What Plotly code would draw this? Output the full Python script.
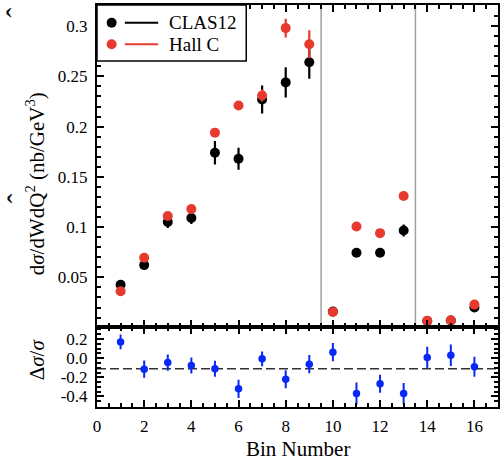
import plotly.graph_objects as go

bins = list(range(1, 17))
clas12 = [0.0427, 0.0622, 0.105, 0.109, 0.174, 0.168, 0.227, 0.244, 0.264, 0.016,
          0.0745, 0.0745, 0.0966, 0.0065, 0.0071, 0.020]
clas12_err = [0.003, 0.003, 0.006, 0.006, 0.0116, 0.011, 0.014, 0.015, 0.0165, 0.002,
              0.004, 0.004, 0.006, 0.002, 0.002, 0.002]
hallc = [0.0361, 0.0695, 0.111, 0.118, 0.194, 0.221, 0.231, 0.298, 0.282, 0.0156,
         0.1006, 0.094, 0.131, 0.0067, 0.0073, 0.0229]
hallc_err = [0.002, 0.002, 0.003, 0.003, 0.003, 0.004, 0.006, 0.0094, 0.014, 0.002,
             0.003, 0.003, 0.004, 0.002, 0.002, 0.002]
ratio = [0.17, -0.115, -0.046, -0.077, -0.11, -0.32, -0.007, -0.22, -0.063, 0.063,
         -0.37, -0.267, -0.37, 0.007, 0.03, -0.09]
ratio_err = [0.077, 0.09, 0.084, 0.084, 0.084, 0.095, 0.077, 0.095, 0.095, 0.095,
             0.115, 0.095, 0.112, 0.112, 0.112, 0.105]
mean_ratio = -0.11
separators = [9.5, 13.5]
legend_names = ["CLAS12", "Hall C"]

BLACK = "#000000"
RED = "#e63a2e"
BLUE = "#0a28f5"
FONT = "Liberation Serif, Times New Roman, Times, serif"

W, H = 501, 462
ML, MR, MT, MB = 97, 1, 5, 55
PW = W - ML - MR
PH = H - MT - MB


def px2x(px):
    return (px - ML) / PW


def py2y(py):
    return (H - MB - py) / PH


fig = go.Figure()

fig.add_trace(go.Scatter(
    x=bins, y=clas12, mode="markers", name=legend_names[0],
    marker=dict(color=BLACK, size=10),
    error_y=dict(type="data", array=clas12_err, color=BLACK, thickness=2.2, width=0),
    xaxis="x", yaxis="y", showlegend=False))
fig.add_trace(go.Scatter(
    x=bins, y=hallc, mode="markers", name=legend_names[1],
    marker=dict(color=RED, size=10),
    error_y=dict(type="data", array=hallc_err, color=RED, thickness=2.2, width=0),
    xaxis="x", yaxis="y", showlegend=False))
fig.add_trace(go.Scatter(
    x=bins, y=ratio, mode="markers",
    marker=dict(color=BLUE, size=7.5),
    error_y=dict(type="data", array=ratio_err, color=BLUE, thickness=2, width=0),
    xaxis="x2", yaxis="y2", showlegend=False))

axis_common = dict(showline=True, linecolor="black", linewidth=2, mirror="allticks",
                   ticks="inside", tickcolor="black", tickwidth=1.5, showgrid=False,
                   zeroline=False, tickfont=dict(family=FONT, size=17, color="black"))

fig.update_layout(
    width=W, height=H,
    margin=dict(l=ML, r=MR, t=MT, b=MB),
    paper_bgcolor="white", plot_bgcolor="white",
    font=dict(family=FONT, color="black"),
    xaxis=dict(domain=[0, 1], range=[0, 17], anchor="y", showticklabels=False,
               tick0=0, dtick=2, ticklen=7,
               minor=dict(dtick=0.5, tick0=0, ticks="inside", ticklen=4, tickcolor="black", tickwidth=1.5),
               **axis_common),
    yaxis=dict(domain=[0.2, 1], range=[0.001, 0.321], anchor="x",
               tick0=0, dtick=0.05, ticklen=7, ticklabelstandoff=4,
               minor=dict(dtick=0.01, tick0=0, ticks="inside", ticklen=4, tickcolor="black", tickwidth=1.5),
               **axis_common),
    xaxis2=dict(domain=[0, 1], range=[0, 17], anchor="y2", matches="x",
                tick0=0, dtick=2, ticklen=7, ticklabelstandoff=3,
                minor=dict(dtick=0.5, tick0=0, ticks="inside", ticklen=4, tickcolor="black", tickwidth=1.5),
                **axis_common),
    yaxis2=dict(domain=[0, 0.2], range=[-0.51, 0.33], anchor="x2",
                tickmode="array", tickvals=[-0.4, -0.2, 0.0, 0.2],
                ticktext=["-0.4", "-0.2", "0.0", "0.2"], ticklen=7, ticklabelstandoff=4,
                minor=dict(dtick=0.05, tick0=0, ticks="inside", ticklen=4, tickcolor="black", tickwidth=1.5),
                **axis_common),
)

shapes = []
for s in separators:
    shapes.append(dict(type="line", xref="x", yref="y domain", x0=s, x1=s, y0=0, y1=1,
                       line=dict(color="#a0a0a0", width=1.5), layer="below"))
shapes.append(dict(type="line", xref="x2 domain", yref="y2", x0=0, x1=1, y0=mean_ratio, y1=mean_ratio,
                   line=dict(color="#333333", width=1.5, dash="9px,4px"), layer="below"))

# legend box
shapes.append(dict(type="rect", xref="paper", yref="paper", x0=px2x(97), x1=px2x(247),
                   y0=py2y(61), y1=py2y(5), line=dict(color="black", width=1.5),
                   fillcolor="white", layer="above"))
annotations = []
for i, (name, col) in enumerate(zip(legend_names, [BLACK, RED])):
    yy = py2y(22.7 + i * 21.6)
    shapes.append(dict(type="circle", xref="paper", yref="paper", xsizemode="pixel",
                       ysizemode="pixel", xanchor=px2x(111.7), yanchor=yy,
                       x0=-5, x1=5, y0=-5, y1=5, fillcolor=col, line=dict(width=0),
                       layer="above"))
    shapes.append(dict(type="line", xref="paper", yref="paper", x0=px2x(125), x1=px2x(158.5),
                       y0=yy, y1=yy, line=dict(color=col, width=2), layer="above"))
    annotations.append(dict(xref="paper", yref="paper", x=px2x(167), y=yy, text=name,
                            showarrow=False, xanchor="left", yanchor="middle",
                            font=dict(family=FONT, size=19, color="black")))

annotations.append(dict(xref="paper", yref="paper", x=px2x(35), y=py2y(184),
                        text="d<i>σ</i>/dWdQ<sup>2</sup> (nb/GeV<sup>3</sup>)",
                        textangle=-90, showarrow=False, xanchor="center", yanchor="middle",
                        font=dict(family=FONT, size=21, color="black")))
annotations.append(dict(xref="paper", yref="paper", x=px2x(37), y=py2y(359),
                        text="Δ<i>σ</i>/<i>σ</i>",
                        textangle=-90, showarrow=False, xanchor="center", yanchor="middle",
                        font=dict(family=FONT, size=21, color="black")))
annotations.append(dict(xref="paper", yref="paper", x=px2x(299), y=py2y(449),
                        text="Bin Number", showarrow=False, xanchor="center", yanchor="middle",
                        font=dict(family=FONT, size=21, color="black")))
# stray hat glyphs above the rotated title
for hy in [12, 198]:
    annotations.append(dict(xref="paper", yref="paper", x=px2x(17), y=py2y(hy),
                            text="ˆ", textangle=-90, showarrow=False,
                            xanchor="center", yanchor="middle",
                            font=dict(family=FONT, size=30, color="black")))

fig.update_layout(shapes=shapes, annotations=annotations)

fig.write_html("out.html")
